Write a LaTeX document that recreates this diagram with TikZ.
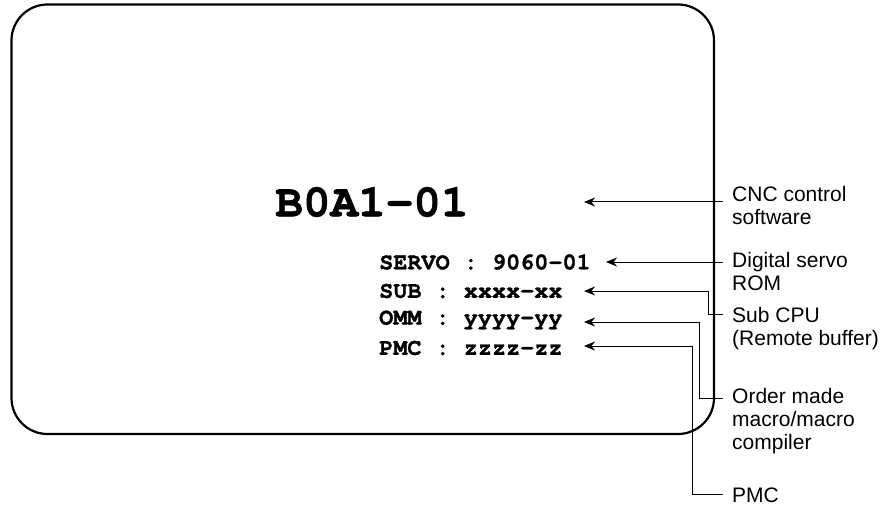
\documentclass[tikz,border=0pt]{standalone}
\usepackage{fontspec}
\setmainfont{Liberation Sans}
\newfontfamily\codefont{texgyrecursor}[Extension=.otf,UprightFont=*-regular,BoldFont=*-bold,BoldFeatures={FakeBold=1.2}]
\usetikzlibrary{arrows.meta}
\begin{document}
\begin{tikzpicture}[x=1pt,y=-1pt,
  panel/.style={draw,line width=2.2pt,rounded corners=36pt},
  bigcode/.style={font=\codefont\bfseries\fontsize{46}{50}\selectfont,inner sep=0pt},
  code/.style={font=\codefont\bfseries\fontsize{23.5}{26}\selectfont,inner sep=0pt,anchor=west},
  lbl/.style={font=\fontsize{21}{23}\selectfont,align=left,anchor=base west,inner sep=0pt},
  conn/.style={line width=1pt,-{Stealth[length=11pt,width=9pt,inset=3.5pt]}}]
\useasboundingbox (0,0) rectangle (891,505);
\draw[panel] (11.5,4.5) rectangle (714,434);
\node[bigcode] (main) at (372,202) {B0A1-01};
\node[code] (servo) at (379,262) {SERVO : 9060-01};
\node[code] (sub) at (379,291) {SUB : xxxx-xx};
\node[code] (omm) at (379,320) {OMM : yyyy-yy};
\node[code] (pmc) at (379,348) {PMC : zzzz-zz};
\coordinate (tmain) at (584,202);
\coordinate (tservo) at (606,262);
\coordinate (tsub) at (584,291);
\coordinate (tomm) at (584,322);
\coordinate (tpmc) at (584,346);
\node[lbl] (lcnc) at (732,224) {CNC control\\software};
\node[lbl] (lservo) at (732,290) {Digital servo\\ROM};
\node[lbl] (lsub) at (732,345) {Sub CPU\\(Remote buffer)};
\node[lbl] (lomm) at (732,449) {Order made\\macro/macro\\compiler};
\node[lbl] (lpmc) at (732,502) {PMC};
\coordinate (ecnc) at (723,202);
\coordinate (eservo) at (723,262);
\coordinate (esub) at (723,314);
\coordinate (eomm) at (723,398);
\coordinate (epmc) at (723,494);
\draw[conn] (ecnc) -- (tmain);
\draw[conn] (eservo) -- (tservo);
\draw[conn] (esub) -- (708,314) -- (708,291) -- (tsub);
\draw[conn] (eomm) -- (699,398) -- (699,322) -- (tomm);
\draw[conn] (epmc) -- (692,494) -- (692,346) -- (tpmc);
\end{tikzpicture}
\end{document}
